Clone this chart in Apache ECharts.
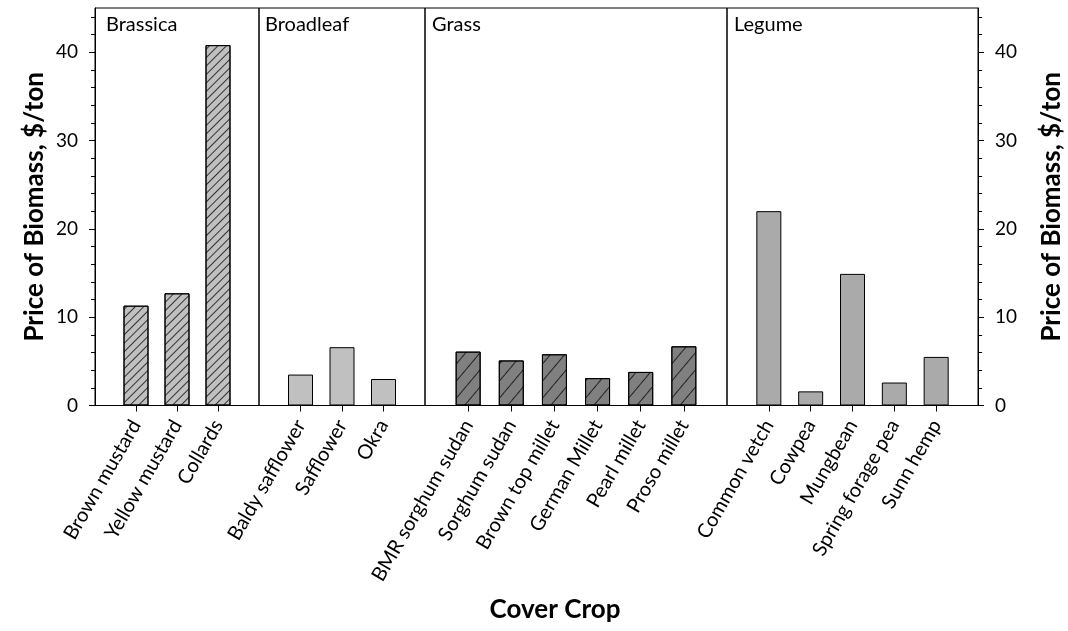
<!DOCTYPE html>
<html><head><meta charset="utf-8">
<script src="https://cdn.jsdelivr.net/npm/echarts@6/dist/echarts.min.js"></script>
<style>html,body{margin:0;padding:0;background:#fff}#c{width:1068px;height:631px}</style>
</head><body><div id="c"></div>
<script>
const groupNames = ['Brassica', 'Broadleaf', 'Grass', 'Legume'];
const brassicaCrops = ['Brown mustard', 'Yellow mustard', 'Collards'];
const brassicaPrice = [11.3, 12.7, 40.8];
const broadleafCrops = ['Baldy safflower', 'Safflower', 'Okra'];
const broadleafPrice = [3.5, 6.6, 3.0];
const grassCrops = ['BMR sorghum sudan', 'Sorghum sudan', 'Brown top millet', 'German Millet', 'Pearl millet', 'Proso millet'];
const grassPrice = [6.1, 5.1, 5.8, 3.1, 3.8, 6.7];
const legumeCrops = ['Common vetch', 'Cowpea', 'Mungbean', 'Spring forage pea', 'Sunn hemp'];
const legumePrice = [22.0, 1.6, 14.9, 2.6, 5.5];
const yTickLabels = [0, 10, 20, 30, 40];
const yMinorTicks = [0, 2, 4, 6, 8, 10, 12, 14, 16, 18, 20, 22, 24, 26, 28, 30, 32, 34, 36, 38, 40, 42, 44];

const FONT = 'Lato';
const crops = [brassicaCrops, broadleafCrops, grassCrops, legumeCrops];
const prices = [brassicaPrice, broadleafPrice, grassPrice, legumePrice];
const fills = ['#c0c0c0', '#c0c0c0', '#808080', '#aaaaaa'];
const hatch = [
  {symbol: 'rect', symbolSize: 1, dashArrayX: [1, 0], dashArrayY: [1, 5], rotation: -Math.PI / 4, color: 'rgba(0,0,0,0.75)'},
  null,
  {symbol: 'rect', symbolSize: 1, dashArrayX: [1, 0], dashArrayY: [1, 10], rotation: -Math.PI / 3.6, color: 'rgba(0,0,0,0.75)'},
  null
];
const gridBoxes = [
  {left: 95, width: 164},
  {left: 259, width: 166},
  {left: 425, width: 302},
  {left: 727, width: 251}
];
const labelOffsets = [11, 6, 7, 7];

const grids = gridBoxes.map(g => ({
  left: g.left, width: g.width, top: 8, height: 397.5,
  show: true, borderColor: '#000', borderWidth: 1, backgroundColor: 'transparent'
}));

const xAxes = crops.map((c, i) => {
  const data = [''].concat(c, ['']);
  return {
    type: 'category', gridIndex: i, boundaryGap: false, data: data,
    axisLine: {lineStyle: {color: '#000', width: 1}},
    axisTick: {length: 6, lineStyle: {color: '#000'}, interval: (idx) => idx > 0 && idx < data.length - 1},
    axisLabel: {interval: 0, rotate: 60, fontSize: 20, color: '#000', fontFamily: FONT, margin: 16},
    splitLine: {show: false}
  };
});

const yAxes = [];
for (let i = 0; i < 4; i++) {
  const visible = (i === 0 || i === 3);
  yAxes.push({
    type: 'value', gridIndex: i, min: 0, max: 45, position: i === 3 ? 'right' : 'left',
    show: visible,
    name: visible ? 'Price of Biomass, $/ton' : '',
    nameLocation: 'middle', nameGap: i === 3 ? 61 : 47,
    nameTextStyle: {fontSize: 26, fontWeight: 'bold', color: '#000', fontFamily: FONT},
    axisLine: {show: true, lineStyle: {color: '#000'}},
    axisTick: {show: true, length: 6, customValues: yTickLabels, lineStyle: {color: '#000'}},
    axisLabel: {customValues: yTickLabels, fontSize: 19, color: '#000', fontFamily: FONT, margin: 17},
    splitLine: {show: false}
  });
}
[0, 3].forEach(i => {
  yAxes.push({
    type: 'value', gridIndex: i, min: 0, max: 45, position: i === 3 ? 'right' : 'left',
    axisLine: {show: false},
    axisTick: {show: true, length: 4, customValues: yMinorTicks, lineStyle: {color: '#000'}},
    axisLabel: {show: false},
    splitLine: {show: false}
  });
});

const series = prices.map((p, i) => ({
  type: 'bar', xAxisIndex: i, yAxisIndex: i,
  data: [null].concat(p, [null]),
  barWidth: 25,
  itemStyle: Object.assign({color: fills[i], borderColor: '#000', borderWidth: 1},
    hatch[i] ? {decal: hatch[i]} : {}),
  emphasis: {disabled: true},
  animation: false
}));

const graphics = groupNames.map((n, i) => ({
  type: 'text', x: gridBoxes[i].left + labelOffsets[i], y: 25,
  style: {text: n, fontSize: 20, fontFamily: FONT, fill: '#000', verticalAlign: 'middle', align: 'left'}
}));
graphics.push({
  type: 'text', x: 555, y: 610,
  style: {text: 'Cover Crop', fontSize: 26, fontWeight: 'bold', fontFamily: FONT, fill: '#000', verticalAlign: 'middle', align: 'center'}
});

const chart = echarts.init(document.getElementById('c'), null, {renderer: 'canvas'});
chart.setOption({
  animation: false,
  backgroundColor: '#fff',
  grid: grids, xAxis: xAxes, yAxis: yAxes, series: series, graphic: graphics
});
</script></body></html>
